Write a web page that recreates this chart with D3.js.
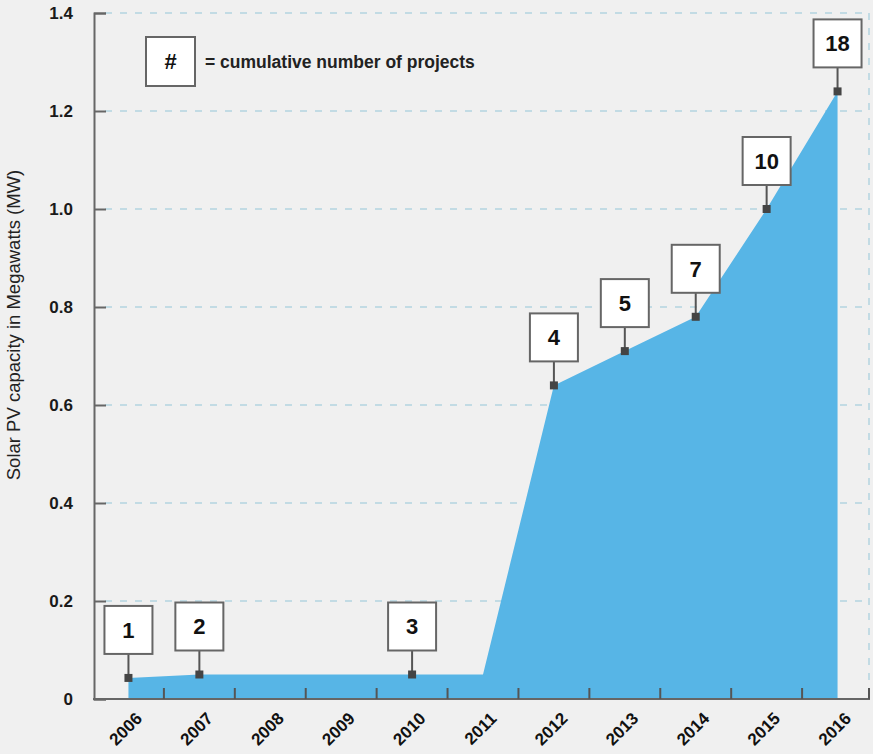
<!DOCTYPE html>
<html>
<head>
<meta charset="utf-8">
<script src="https://cdn.jsdelivr.net/npm/d3@7.9.0/dist/d3.min.js"></script>
<style>
  html, body { margin: 0; padding: 0; background: #f0f0f0; }
  svg { display: block; font-family: "Liberation Sans", Arial, sans-serif; }
</style>
</head>
<body>
<svg id="chart" width="873" height="754"></svg>
<script>
// Data
const years = [2006, 2007, 2008, 2009, 2010, 2011, 2012, 2013, 2014, 2015, 2016];
const capacity = [0.043, 0.05, 0.05, 0.05, 0.05, 0.05, 0.64, 0.71, 0.78, 1.0, 1.24];
const projectCounts = [1, 2, null, null, 3, null, 4, 5, 7, 10, 18];
const yTicks = [0, 0.2, 0.4, 0.6, 0.8, 1.0, 1.2, 1.4];

const svg = d3.select('#chart');

// Scales
const x = d3.scaleBand().domain(years).range([93, 873]);
const y = d3.scaleLinear().domain([0, 1.4]).range([699, 13]);
const cx = (yr) => x(yr) + x.bandwidth() / 2;
const right = 869;

const points = years.map((yr, i) => ({ year: yr, value: capacity[i], count: projectCounts[i] }));

// Gridlines (dashed)
svg.append('g')
  .selectAll('line')
  .data(yTicks.filter((d) => d > 0))
  .join('line')
  .attr('x1', 105)
  .attr('x2', right)
  .attr('y1', (d) => y(d))
  .attr('y2', (d) => y(d))
  .attr('stroke', '#b2d4e0')
  .attr('stroke-width', 1.5)
  .attr('stroke-dasharray', '7 8');

// Right dashed border
svg.append('line')
  .attr('x1', right).attr('x2', right)
  .attr('y1', y(1.4)).attr('y2', y(0))
  .attr('stroke', '#b2d4e0')
  .attr('stroke-width', 1.5)
  .attr('stroke-dasharray', '7 8');

// Area
const area = d3.area()
  .x((d) => cx(d.year))
  .y0(y(0))
  .y1((d) => y(d.value));

svg.append('path')
  .datum(points)
  .attr('d', area)
  .attr('fill', '#57b5e6');

// Y axis
const yAxis = d3.axisLeft(y)
  .tickValues(yTicks)
  .tickSize(-12)
  .tickPadding(20)
  .tickFormat((d) => (d === 0 ? '0' : d3.format('.1f')(d)));

const yg = svg.append('g')
  .attr('transform', 'translate(94,0)')
  .call(yAxis);
yg.select('.domain').attr('stroke', '#666').attr('stroke-width', 2);
yg.selectAll('.tick line').attr('stroke', '#666').attr('stroke-width', 2);
yg.selectAll('.tick text')
  .attr('fill', '#1a1a1a')
  .attr('font-size', 17)
  .attr('font-weight', 'bold')
  .attr('x', -21);

// X axis: baseline with ticks at band boundaries pointing up
svg.append('line')
  .attr('x1', 93).attr('x2', right + 1)
  .attr('y1', y(0)).attr('y2', y(0))
  .attr('stroke', '#666')
  .attr('stroke-width', 2);

svg.append('g')
  .selectAll('line')
  .data(years.slice(1).concat(['end']))
  .join('line')
  .attr('x1', (d) => (d === 'end' ? right : x(d)))
  .attr('x2', (d) => (d === 'end' ? right : x(d)))
  .attr('y1', y(0) - 11)
  .attr('y2', y(0))
  .attr('stroke', '#555')
  .attr('stroke-width', 2);

// Year labels, rotated
svg.append('g')
  .selectAll('text')
  .data(years)
  .join('text')
  .attr('transform', (d) => `translate(${cx(d) + 6},${y(0) + 12}) rotate(-45)`)
  .attr('text-anchor', 'end')
  .attr('dy', '0.72em')
  .attr('fill', '#111')
  .attr('font-size', 17)
  .attr('font-weight', 'bold')
  .text((d) => d);

// Y axis title
svg.append('text')
  .attr('transform', 'translate(20,325) rotate(-90)')
  .attr('text-anchor', 'middle')
  .attr('fill', '#222')
  .attr('font-size', 18.5)
  .text('Solar PV capacity in Megawatts (MW)');

// Callouts
const labelled = points.filter((d) => d.count !== null);
const callouts = svg.append('g')
  .selectAll('g')
  .data(labelled)
  .join('g')
  .attr('transform', (d) => `translate(${cx(d.year)},${y(d.value)})`);

callouts.append('line')
  .attr('x1', 0).attr('x2', 0)
  .attr('y1', 0).attr('y2', -24)
  .attr('stroke', '#555')
  .attr('stroke-width', 2);

callouts.append('rect')
  .attr('x', -24).attr('y', -72)
  .attr('width', 48).attr('height', 48)
  .attr('fill', '#fff')
  .attr('stroke', '#666')
  .attr('stroke-width', 2);

callouts.append('text')
  .attr('x', 0).attr('y', -48)
  .attr('dy', '0.36em')
  .attr('text-anchor', 'middle')
  .attr('fill', '#111')
  .attr('font-size', 22)
  .attr('font-weight', 'bold')
  .text((d) => d.count);

callouts.append('rect')
  .attr('x', -4).attr('y', -4)
  .attr('width', 8).attr('height', 8)
  .attr('fill', '#444');

// Legend
const legend = svg.append('g').attr('transform', 'translate(146,37)');
legend.append('rect')
  .attr('width', 49).attr('height', 49)
  .attr('fill', '#fff')
  .attr('stroke', '#666')
  .attr('stroke-width', 2);
legend.append('text')
  .attr('x', 24.5).attr('y', 24.5)
  .attr('dy', '0.36em')
  .attr('text-anchor', 'middle')
  .attr('fill', '#111')
  .attr('font-size', 22)
  .attr('font-weight', 'bold')
  .text('#');
legend.append('text')
  .attr('x', 59).attr('y', 24.5)
  .attr('dy', '0.36em')
  .attr('fill', '#222')
  .attr('font-size', 17.5)
  .attr('font-weight', 'bold')
  .text('= cumulative number of projects');
</script>
</body>
</html>
